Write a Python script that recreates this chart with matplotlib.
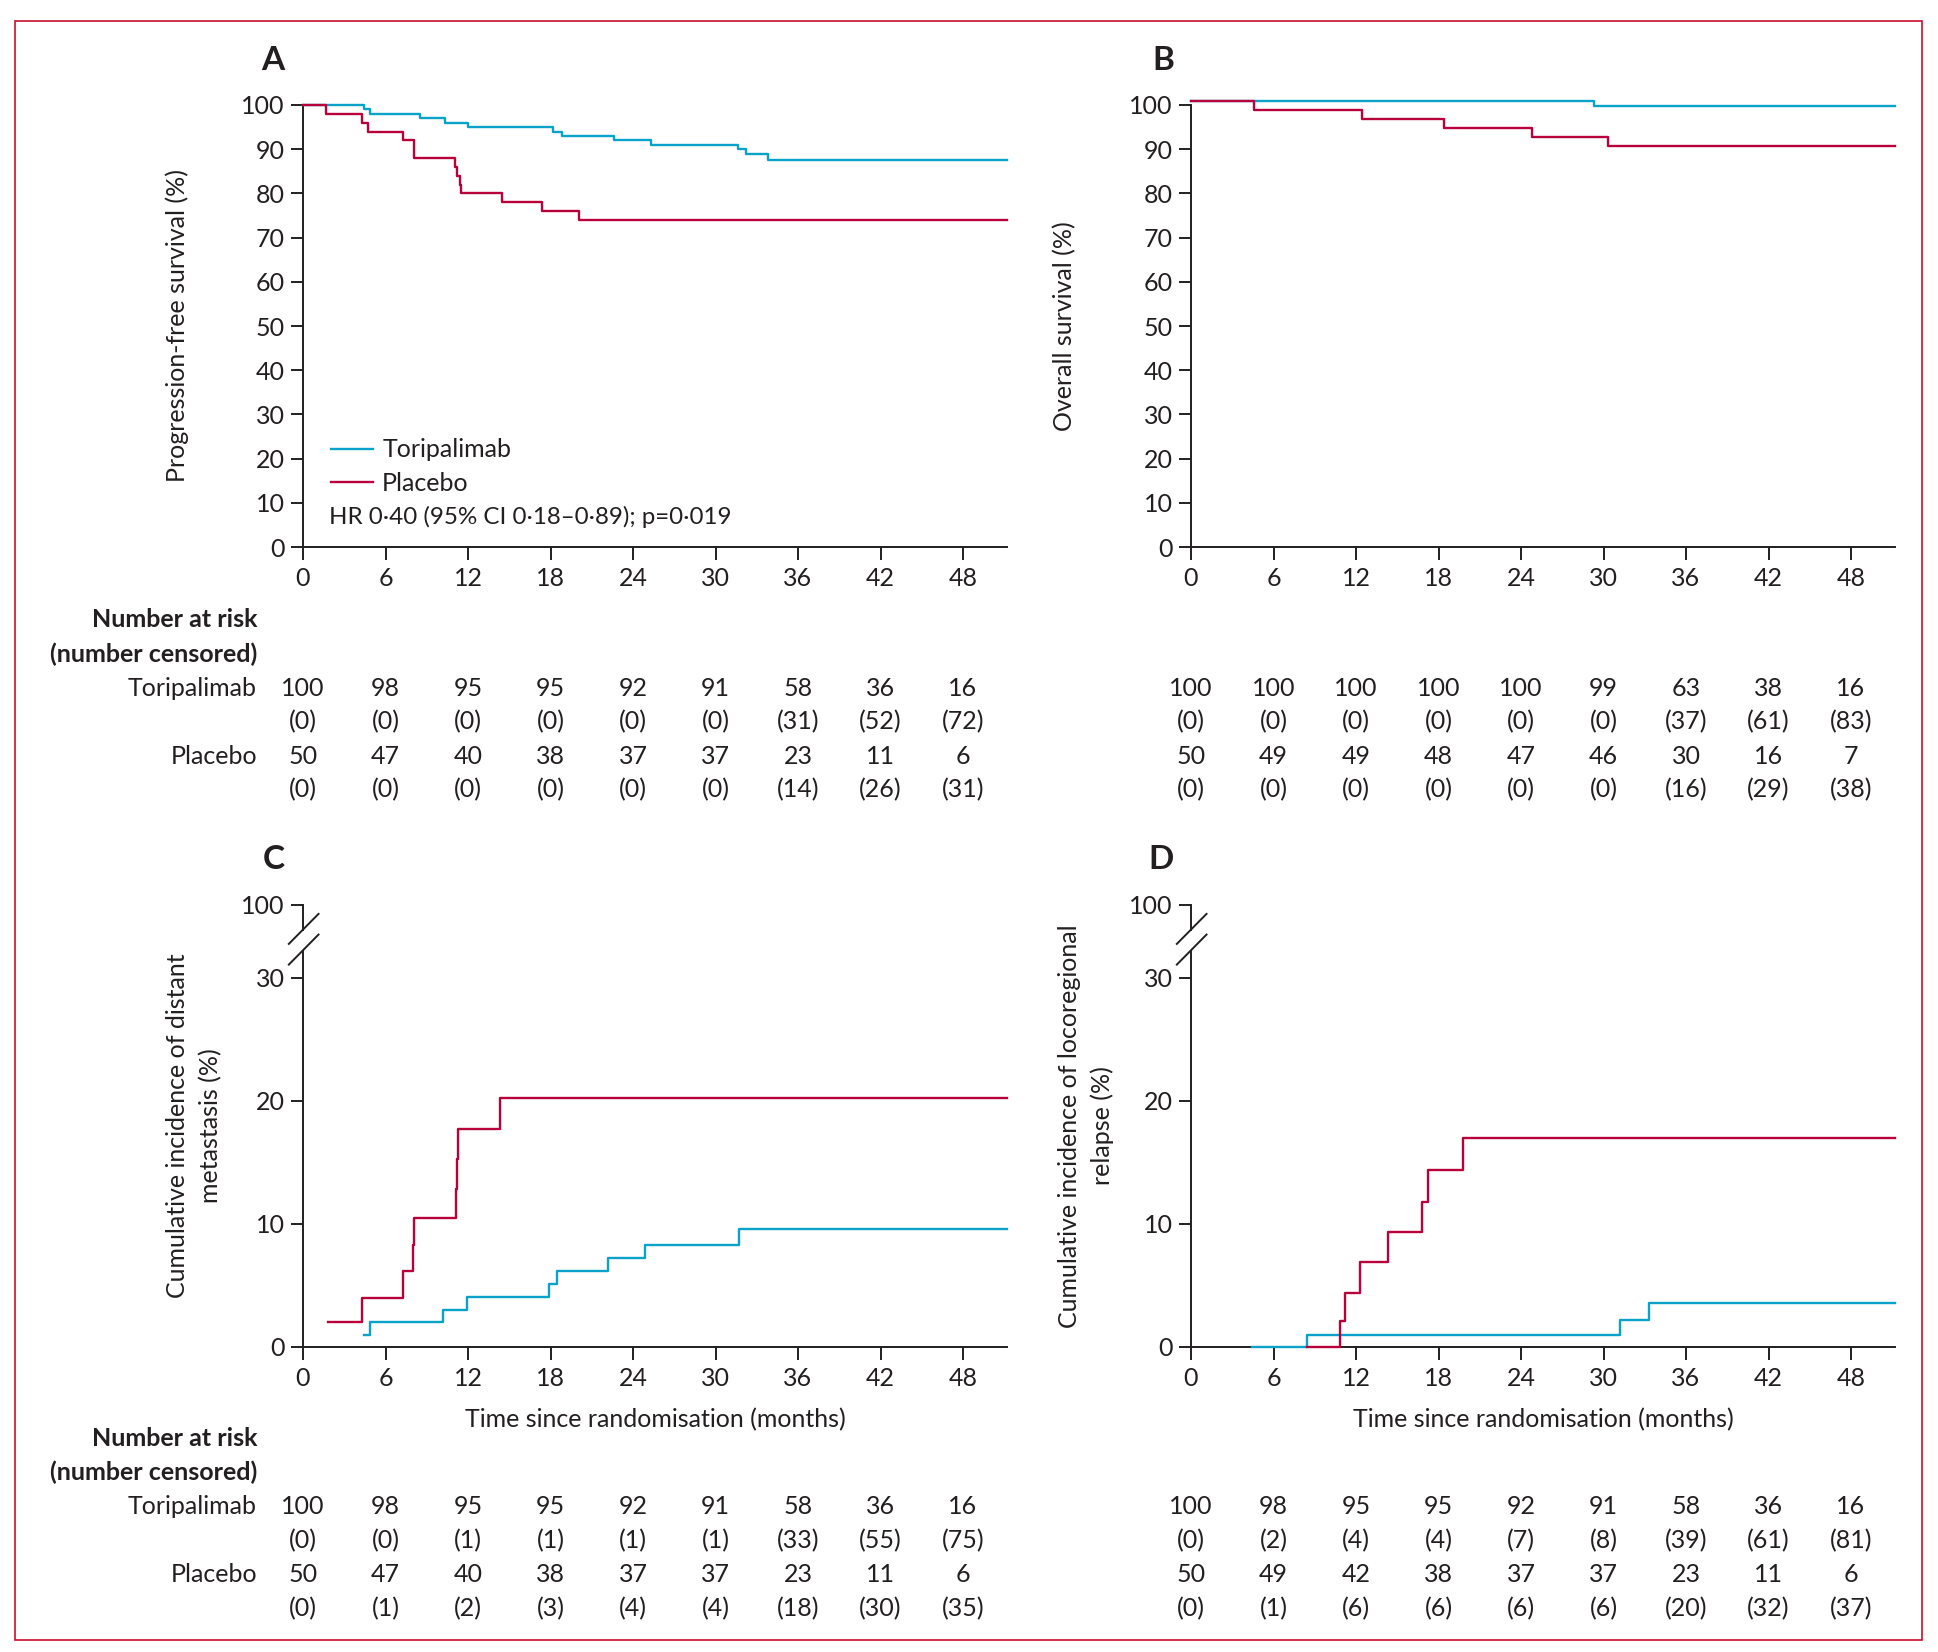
import matplotlib
matplotlib.use("Agg")
import matplotlib.pyplot as plt
from matplotlib.patches import Rectangle
from matplotlib.transforms import blended_transform_factory

plt.rcParams['font.family'] = ['Lato', 'DejaVu Sans']

TOR_COL = '#0aa2c8'
PLA_COL = '#b8003a'
INK = '#231f20'
FRAME = '#c8102e'

# ---- data ----
months = [0, 6, 12, 18, 24, 30, 36, 42, 48]
x_max = 51.2

# A: progression-free survival (%)
pfs_tor_t = [0, 4.4, 4.9, 8.5, 10.3, 12.0, 18.2, 18.8, 22.6, 25.3, 31.6, 32.2, 33.8, x_max]
pfs_tor_v = [100, 99, 98, 97, 96, 95, 94, 93, 92, 91, 90, 89, 87.5, 87.5]
pfs_pla_t = [0, 1.7, 4.3, 4.7, 7.3, 8.05, 8.1, 11.05, 11.2, 11.4, 11.5, 14.5, 17.4, 20.1, x_max]
pfs_pla_v = [100, 98, 96, 94, 92, 90, 88, 86, 84, 82, 80, 78, 76, 74, 74]

# B: overall survival (%)
os_tor_t = [0, 29.3, x_max]
os_tor_v = [100.8, 99.8, 99.8]
os_pla_t = [0, 4.6, 12.4, 18.4, 24.8, 30.3, x_max]
os_pla_v = [100.8, 98.8, 96.8, 94.8, 92.8, 90.8, 90.8]

# C: cumulative incidence of distant metastasis (%)
dm_tor_t = [4.4, 4.9, 10.2, 11.9, 17.9, 18.5, 22.2, 24.9, 31.7, x_max]
dm_tor_v = [1.0, 2.0, 3.0, 4.1, 5.1, 6.2, 7.2, 8.3, 9.6, 9.6]
dm_pla_t = [1.8, 4.3, 7.3, 8.0, 8.05, 11.1, 11.2, 11.25, 14.3, x_max]
dm_pla_v = [2.0, 4.0, 6.2, 8.3, 10.5, 12.8, 15.3, 17.7, 20.2, 20.2]

# D: cumulative incidence of locoregional relapse (%)
lr_tor_t = [4.4, 8.4, 31.2, 33.3, x_max]
lr_tor_v = [0, 1.0, 2.2, 3.6, 3.6]
lr_pla_t = [8.4, 10.8, 11.2, 12.3, 14.3, 16.8, 17.2, 19.8, x_max]
lr_pla_v = [0, 2.1, 4.4, 6.9, 9.3, 11.8, 14.4, 17.0, 17.0]

# numbers at risk (number censored)
pfs_tor_n = [100, 98, 95, 95, 92, 91, 58, 36, 16]
pfs_tor_c = [0, 0, 0, 0, 0, 0, 31, 52, 72]
pfs_pla_n = [50, 47, 40, 38, 37, 37, 23, 11, 6]
pfs_pla_c = [0, 0, 0, 0, 0, 0, 14, 26, 31]

os_tor_n = [100, 100, 100, 100, 100, 99, 63, 38, 16]
os_tor_c = [0, 0, 0, 0, 0, 0, 37, 61, 83]
os_pla_n = [50, 49, 49, 48, 47, 46, 30, 16, 7]
os_pla_c = [0, 0, 0, 0, 0, 0, 16, 29, 38]

dm_tor_n = [100, 98, 95, 95, 92, 91, 58, 36, 16]
dm_tor_c = [0, 0, 1, 1, 1, 1, 33, 55, 75]
dm_pla_n = [50, 47, 40, 38, 37, 37, 23, 11, 6]
dm_pla_c = [0, 1, 2, 3, 4, 4, 18, 30, 35]

lr_tor_n = [100, 98, 95, 95, 92, 91, 58, 36, 16]
lr_tor_c = [0, 2, 4, 4, 7, 8, 39, 61, 81]
lr_pla_n = [50, 49, 42, 38, 37, 37, 23, 11, 6]
lr_pla_c = [0, 1, 6, 6, 6, 6, 20, 32, 37]

# broken axis for C and D: "100" sits just above 30
break_top = 35.9
ci_ticks = [0, 10, 20, 30, break_top]
ci_labels = ['0', '10', '20', '30', '100']

FS = 18
W, H = 1938, 1652
fig = plt.figure(figsize=(W / 100, H / 100), dpi=100)


def px_axes(left, right, top, bottom):
    return fig.add_axes([left / W, 1 - bottom / H, (right - left) / W, (bottom - top) / H])


def style(ax):
    for s in ['top', 'right']:
        ax.spines[s].set_visible(False)
    for s in ['left', 'bottom']:
        ax.spines[s].set_linewidth(1.4)
        ax.spines[s].set_color(INK)
    ax.tick_params(length=9, width=1.4, colors=INK, labelsize=FS, pad=4)
    ax.tick_params(axis='x', pad=5.5)
    ax.set_xlim(0, x_max)
    ax.set_xticks(months)


def curves(ax, tt, tv, pt, pv):
    ax.step(tt, tv, where='post', color=TOR_COL, lw=1.7, clip_on=False, zorder=3, label='Toripalimab')
    ax.step(pt, pv, where='post', color=PLA_COL, lw=1.7, clip_on=False, zorder=3, label='Placebo')


def broken_axis(ax):
    ax.set_ylim(0, break_top)
    ax.set_yticks(ci_ticks)
    ax.set_yticklabels(ci_labels)
    ax.spines['left'].set_bounds(0, 32.2)
    ax.plot([0, 0], [33.9, break_top], color=INK, lw=1.4, clip_on=False, zorder=2.5)
    for y0 in (32.74, 31.06):
        ax.plot([-1.03, 1.13], [y0, y0 + 2.44], color=INK, lw=1.4, clip_on=False, zorder=2.5)


def risk_table(ax, rows_y, rows):
    tr = blended_transform_factory(ax.transData, fig.transFigure)
    for i, (vals, y) in enumerate(zip(rows, rows_y)):
        for m, v in zip(months, vals):
            txt = f'({v})' if i % 2 else str(v)
            ax.text(m, 1 - y / H, txt, transform=tr, ha='center', va='center',
                    fontsize=FS, color=INK)


def table_labels(rows_y):
    fig.text(257 / W, 1 - rows_y[0] / H, 'Number at risk', ha='right', va='center',
             fontsize=FS, fontweight='bold', color=INK)
    fig.text(257 / W, 1 - rows_y[1] / H, '(number censored)', ha='right', va='center',
             fontsize=FS, fontweight='bold', color=INK)
    fig.text(257 / W, 1 - rows_y[2] / H, 'Toripalimab', ha='right', va='center', fontsize=FS, color=INK)
    fig.text(257 / W, 1 - rows_y[4] / H, 'Placebo', ha='right', va='center', fontsize=FS, color=INK)


axA = px_axes(303, 1007, 105, 547)
axB = px_axes(1191, 1895, 105, 547)
axC = px_axes(303, 1007, 905, 1347)
axD = px_axes(1191, 1895, 905, 1347)

for ax in (axA, axB):
    style(ax)
    ax.set_ylim(0, 100)
    ax.set_yticks(range(0, 101, 10))
for ax in (axC, axD):
    style(ax)
    broken_axis(ax)

curves(axA, pfs_tor_t, pfs_tor_v, pfs_pla_t, pfs_pla_v)
curves(axB, os_tor_t, os_tor_v, os_pla_t, os_pla_v)
curves(axC, dm_tor_t, dm_tor_v, dm_pla_t, dm_pla_v)
curves(axD, lr_tor_t, lr_tor_v, lr_pla_t, lr_pla_v)

axA.legend(loc='upper left', bbox_to_anchor=(0.04, 0.246), frameon=False, fontsize=FS,
           handlelength=1.68, handletextpad=0.36, labelspacing=0.42, borderpad=0, borderaxespad=0,
           labelcolor=INK)
axA.text(0.037, 0.068, 'HR 0·40 (95% CI 0·18–0·89); p=0·019', transform=axA.transAxes,
         ha='left', va='center', fontsize=17.4, color=INK)

# panel letters
for lab, x, y in [('A', 273, 61), ('B', 1163, 61), ('C', 274, 859), ('D', 1161, 859)]:
    fig.text(x / W, 1 - y / H, lab, ha='center', va='center', fontsize=24, fontweight='bold', color=INK)

# axis titles
fig.text(177 / W, 1 - 326 / H, 'Progression-free survival (%)', rotation=90,
         ha='center', va='center', fontsize=FS, color=INK)
fig.text(1065 / W, 1 - 326 / H, 'Overall survival (%)', rotation=90,
         ha='center', va='center', fontsize=FS, color=INK)
fig.text(194 / W, 1 - 1126 / H, 'Cumulative incidence of distant\nmetastasis (%)', rotation=90,
         ha='center', va='center', fontsize=FS, color=INK, linespacing=1.5)
fig.text(1086 / W, 1 - 1126 / H, 'Cumulative incidence of locoregional\nrelapse (%)', rotation=90,
         ha='center', va='center', fontsize=FS, color=INK, linespacing=1.5)
for x in (655, 1543):
    fig.text(x / W, 1 - 1420 / H, 'Time since randomisation (months)',
             ha='center', va='center', fontsize=FS, color=INK)

# risk tables
top_rows = [688, 722, 756, 790]
bot_rows = [1506, 1541, 1574, 1609]
risk_table(axA, top_rows, [pfs_tor_n, pfs_tor_c, pfs_pla_n, pfs_pla_c])
risk_table(axB, top_rows, [os_tor_n, os_tor_c, os_pla_n, os_pla_c])
risk_table(axC, bot_rows, [dm_tor_n, dm_tor_c, dm_pla_n, dm_pla_c])
risk_table(axD, bot_rows, [lr_tor_n, lr_tor_c, lr_pla_n, lr_pla_c])
table_labels([620, 654] + top_rows)
table_labels([1438, 1472] + bot_rows)

fig.add_artist(Rectangle((15 / W, 1 - 1640 / H), (1922 - 15) / W, (1640 - 21) / H,
                         transform=fig.transFigure, fill=False, edgecolor=FRAME, lw=1.2))

fig.savefig('out.png', dpi=100)
